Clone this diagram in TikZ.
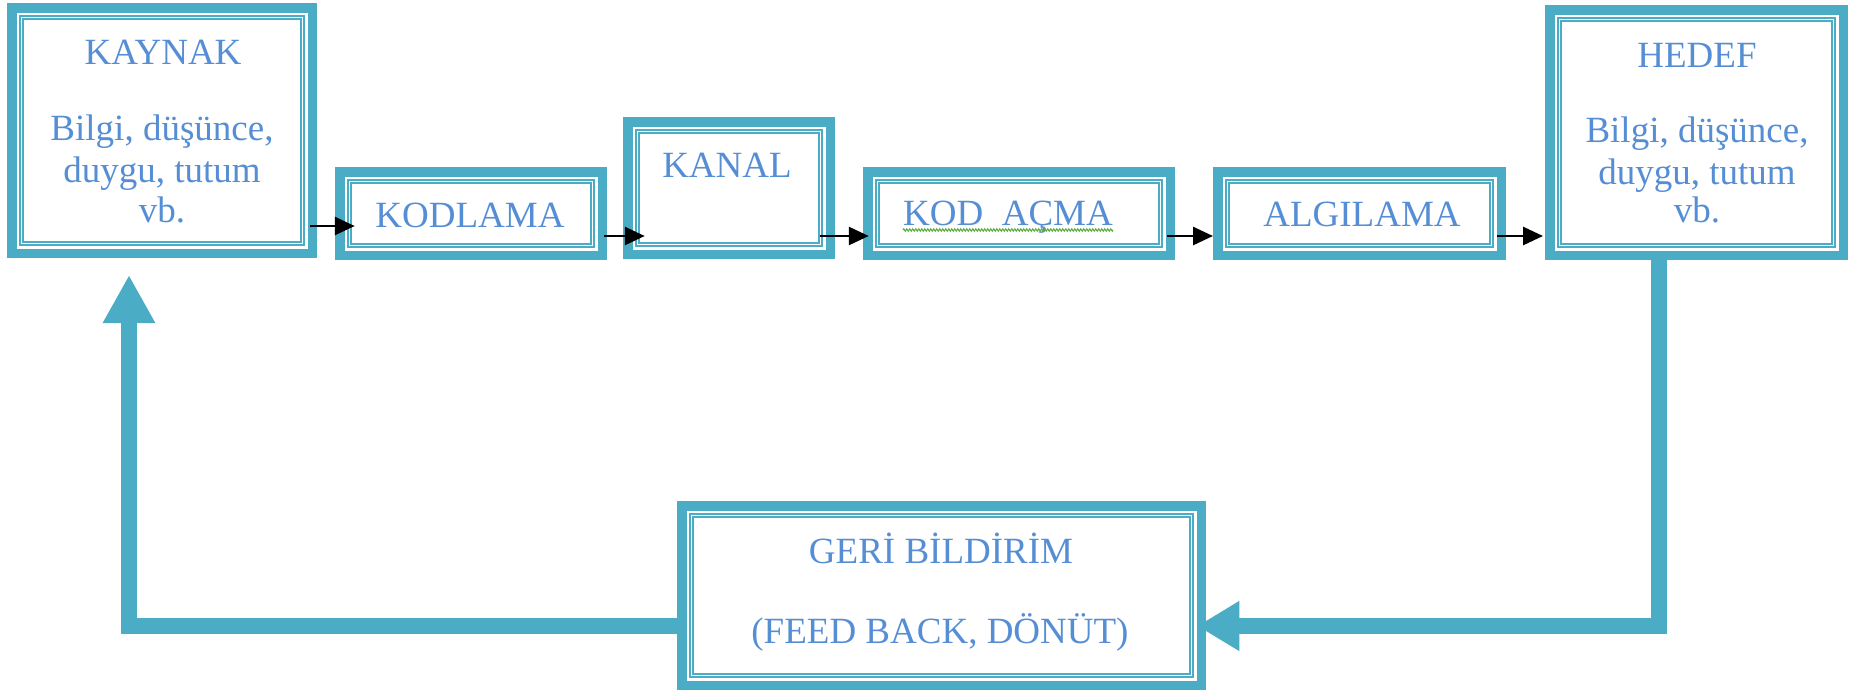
\documentclass[tikz,border=0pt]{standalone}
\usepackage{fontspec}
\setmainfont{Liberation Serif}
\usetikzlibrary{arrows.meta,decorations.pathmorphing}
\definecolor{boxteal}{RGB}{75,172,198}
\definecolor{txtblue}{RGB}{85,142,213}
\definecolor{spellgreen}{RGB}{90,170,60}
\tikzset{
  obox/.style={rectangle, draw=boxteal, line width=9.5pt, fill=white, inner sep=0pt, outer sep=0pt, line join=miter},
  ibox/.style={draw=boxteal, line width=1.6pt},
  lbl/.style={text=txtblue, font=\fontsize{37}{44}\selectfont, inner sep=0pt, anchor=base},
  arr/.style={draw=black, line width=2.8pt, -{Triangle[length=20pt,width=18pt]}},
  fb/.style={draw=boxteal, line width=16pt, line join=miter},
}
% name, cx, cy, outer width, outer height
\newcommand\tribox[5]{%
  \pgfmathsetmacro\tbw{#4-9.5}%
  \pgfmathsetmacro\tbh{#5-9.5}%
  \node[obox, minimum width=\tbw pt, minimum height=\tbh pt] (#1) at (#2,#3) {};
  \draw[ibox] ([shift={(8,8)}]#1.north west) rectangle ([shift={(-8,-8)}]#1.south east);
  \draw[ibox] ([shift={(11.5,11.5)}]#1.north west) rectangle ([shift={(-11.5,-11.5)}]#1.south east);
}
\begin{document}
\begin{tikzpicture}[x=1pt,y=-1pt]
\fill[white] (0,0) rectangle (1851,691);
\useasboundingbox (0,0) rectangle (1851,691);

% boxes
\tribox{kaynak}{162}{130.5}{310}{255}
\tribox{kodlama}{471}{213.5}{272}{93}
\tribox{kanal}{729}{188}{212}{142}
\tribox{kodacma}{1019}{213.5}{312}{93}
\tribox{algilama}{1359.5}{213.5}{293}{93}
\tribox{hedef}{1696.5}{132.5}{303}{255}
\tribox{geri}{941.5}{595.5}{529}{189}

% levels for connectors
\coordinate (yA) at (0,226);
\coordinate (yB) at (0,236);
\coordinate (fbR) at (1659,626);
\coordinate (fbL) at (129,626);

% black arrows
\draw[arr, shorten <=-2pt, shorten >=-15pt] (kaynak.east |- yA) -- (kodlama.west |- yA);
\draw[arr, shorten <=2pt, shorten >=-17pt] (kodlama.east |- yB) -- (kanal.west |- yB);
\draw[arr, shorten <=-10pt, shorten >=-1pt] (kanal.east |- yB) -- (kodacma.west |- yB);
\draw[arr, shorten <=-3pt, shorten >=4.75pt] (kodacma.east |- yB) -- (algilama.west |- yB);
\draw[arr, shorten <=-4pt, shorten >=6.75pt] (algilama.east |- yB) -- (hedef.west |- yB);

% feedback loop
\draw[fb, -{Triangle[length=42pt,width=47pt]}, shorten >=-4pt] (hedef.south -| fbR) -- (fbR) -- (geri.east |- fbR);
\draw[fb, -{Triangle[length=48pt,width=49pt]}, shorten >=21.75pt] (geri.west |- fbL) -- (fbL) -- (kaynak.south -| fbL);

% texts
\node[lbl] (kaynak1) at (163,64) {KAYNAK};
\node[lbl] (kaynak2) at (162,140) {Bilgi, düşünce,};
\node[lbl] (kaynak3) at (162,182) {duygu, tutum};
\node[lbl] (kaynak4) at (162,222) {vb.};

\node[lbl] (hedef1) at (1697,67) {HEDEF};
\node[lbl] (hedef2) at (1697,142) {Bilgi, düşünce,};
\node[lbl] (hedef3) at (1697,184) {duygu, tutum};
\node[lbl] (hedef4) at (1697,222) {vb.};

\node[lbl] (kodlamaT) at (470,227) {KODLAMA};
\node[lbl] (kanalT) at (727,177) {KANAL};
\node[lbl, anchor=base west] (kodacmaT) at (903,225) {KOD~~AÇMA};
\draw[spellgreen, line width=1pt, decorate, decoration={zigzag, amplitude=1.2pt, segment length=3pt}]
  ([shift={(0,5)}]kodacmaT.base west) -- ([shift={(0,5)}]kodacmaT.base east);
\node[lbl] (algilamaT) at (1362,226) {ALGILAMA};

\node[lbl] (geri1) at (941,563) {GERİ BİLDİRİM};
\node[lbl] (geri2) at (940,643) {(FEED BACK, DÖNÜT)};
\end{tikzpicture}
\end{document}
